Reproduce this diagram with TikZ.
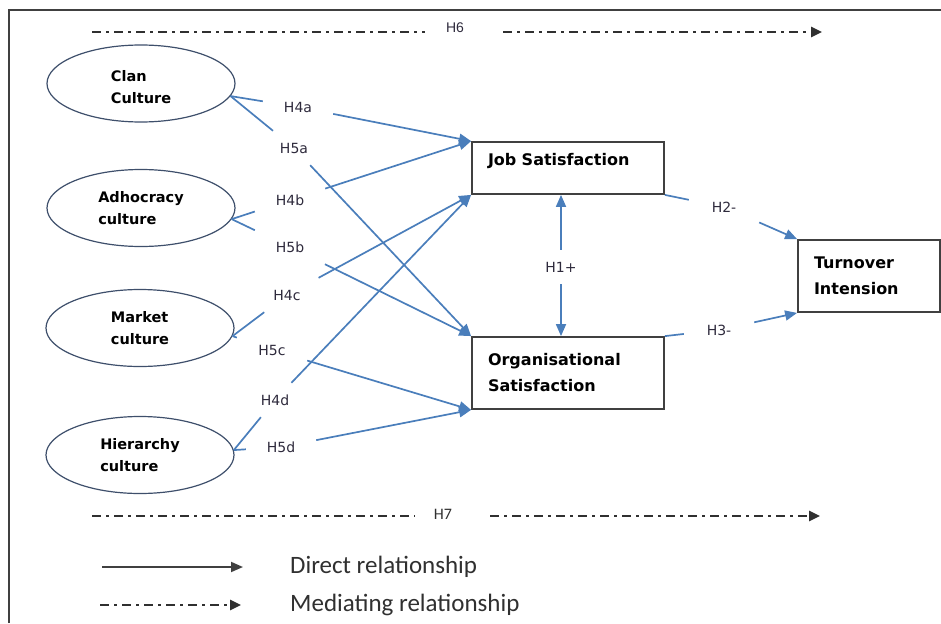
\documentclass[tikz,border=0pt]{standalone}
\usepackage{fontspec}
\setmainfont{DejaVu Sans}
\newfontfamily\calibrifont{Carlito}
\newfontfamily\arialfont{Liberation Sans}
\usetikzlibrary{shapes.geometric,arrows.meta}
\definecolor{hypblue}{HTML}{4A7EBB}
\definecolor{boxgray}{HTML}{404040}
\definecolor{ellblue}{HTML}{3E4F6B}
\definecolor{labtext}{HTML}{2E2A3C}
\definecolor{medgray}{HTML}{303030}
\tikzset{
  culture/.style={ellipse,draw=ellblue,line width=1.2pt,minimum width=188pt,
    minimum height=77pt,inner sep=0pt,align=left,
    font=\fontsize{14.5}{22}\selectfont\bfseries},
  satbox/.style={rectangle,draw=boxgray,line width=1.8pt,inner xsep=16pt,
    inner ysep=0pt,align=left,font=\fontsize{16}{26}\selectfont\bfseries},
  hyp/.style={minimum width=70pt,minimum height=34pt,inner sep=0pt,
    text=labtext,font=\fontsize{14}{16}\selectfont},
  link/.style={draw=hypblue,line width=1.7pt},
  hyparrow/.style={link,-{Triangle[length=12pt,width=10pt]}},
  medline/.style={draw=medgray,line width=2.5pt,dash pattern=on 9pt off 5pt on 3pt off 5pt},
  medarrow/.style={medline,-{Triangle[length=11pt,width=10pt]}},
  frame/.style={draw=boxgray,line width=1.8pt}
}
\begin{document}
\begin{tikzpicture}[x=1pt,y=-1pt]
\useasboundingbox (0,0) rectangle (941,623);
%marco
\draw[frame] (9,623) -- (9,10) -- (941,10);
%culturas
\node[culture] (clan) at (141,83.5) {\raisebox{-4pt}[\height][\depth]{Clan}\\\raisebox{-4pt}[\height][\depth]{Culture}};
\node[culture] (adhoc) at (141,208) {Adhocracy\\culture};
\node[culture] (market) at (140,328) {Market\\culture};
\node[culture] (hier) at (140,455) {Hierarchy\\culture};
%cajas
\node[satbox,minimum width=192pt,minimum height=52pt,text width=160pt] (jobsat) at (568,168)
  {\raisebox{7pt}[\height][\depth]{Job Satisfaction}};
\node[satbox,minimum width=192pt,minimum height=72pt,text width=160pt] (orgsat) at (568,373)
  {Organisational\\Satisfaction};
\node[satbox,minimum width=142pt,minimum height=72pt,text width=110pt] (turnover) at (869,276)
  {Turnover\\Intension};
%hipotesis
\node[hyp] (h4a) at (298,107) {H4a};
\node[hyp] (h5a) at (294,148) {H5a};
\node[hyp] (h4b) at (290,200) {H4b};
\node[hyp] (h5b) at (290,247) {H5b};
\node[hyp] (h4c) at (287,295) {H4c};
\node[hyp] (h5c) at (272,350) {H5c};
\node[hyp] (h4d) at (275,400) {H4d};
\node[hyp] (h5d) at (281,447) {H5d};
\node[hyp] (h1) at (561,267) {H1+};
\node[hyp] (h2) at (724,207) {H2-};
\node[hyp] (h3) at (719,330) {H3-};
\draw[link] (clan.-8) -- (h4a);
\draw[hyparrow] (h4a) -- (jobsat.north west);
\draw[link] (clan.-8) -- (h5a);
\draw[hyparrow] (h5a) -- (orgsat.north west);
\draw[link] (adhoc.-7) -- (h4b);
\draw[hyparrow] (h4b) -- (jobsat.north west);
\draw[link] (adhoc.-7) -- (h5b);
\draw[hyparrow] (h5b) -- (orgsat.north west);
\draw[link] (market.-5) -- (h4c);
\draw[hyparrow] (h4c) -- (jobsat.south west);
\draw[link] (market.-5) -- (h5c);
\draw[hyparrow] (h5c) -- (orgsat.south west);
\draw[link] (hier.3) -- (h4d);
\draw[hyparrow] (h4d) -- (jobsat.south west);
\draw[link] (hier.3) -- (h5d);
\draw[hyparrow] (h5d) -- (orgsat.south west);
\draw[hyparrow] (h1) -- (jobsat.south -| h1);
\draw[hyparrow] (h1) -- (orgsat.north -| h1);
\draw[link] (jobsat.south east) -- (h2);
\draw[hyparrow] (h2) -- (turnover.north west);
\draw[link] (orgsat.north east) -- (h3);
\draw[hyparrow] (h3) -- (turnover.south west);
%mediacion
\coordinate (h6a) at (92,32);
\coordinate (h6b) at (425,32);
\coordinate (h6c) at (503,32);
\coordinate (h6d) at (822,32);
\node[text=labtext,font=\arialfont\fontsize{14}{16}\selectfont] (h6) at (455,28) {H6};
\draw[medline] (h6a) -- (h6b);
\draw[medarrow] (h6c) -- (h6d);
\coordinate (h7a) at (92,516);
\coordinate (h7b) at (415,516);
\coordinate (h7c) at (490,516);
\coordinate (h7d) at (820,516);
\node[text=medgray,font=\calibrifont\fontsize{16}{18}\selectfont] (h7) at (443,514) {H7};
\draw[medline] (h7a) -- (h7b);
\draw[medarrow] (h7c) -- (h7d);
%leyenda
\coordinate (dira) at (102,567);
\coordinate (dirb) at (243,567);
\coordinate (meda) at (100,605);
\coordinate (medb) at (241,605);
\draw[draw=boxgray,line width=1.8pt,-{Triangle[length=12pt,width=10pt]}] (dira) -- (dirb);
\draw[medarrow] (meda) -- (medb);
\node[anchor=west,inner sep=0pt,text=medgray,font=\calibrifont\fontsize{25}{28}\selectfont] (direct) at (290,567) {Direct relationship};
\node[anchor=west,inner sep=0pt,text=medgray,font=\calibrifont\fontsize{25}{28}\selectfont] (mediating) at (290,605) {Mediating relationship};
\end{tikzpicture}
\end{document}
